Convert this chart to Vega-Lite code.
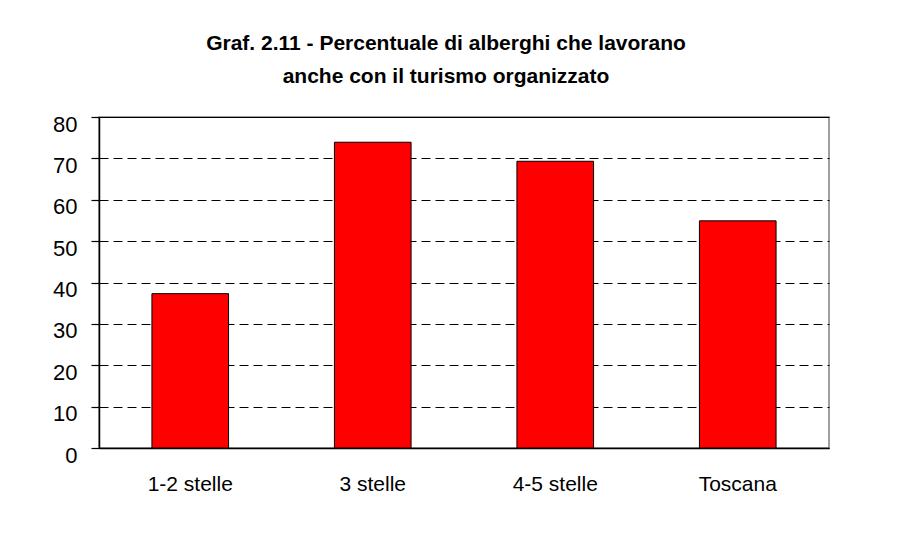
{
  "$schema": "https://vega.github.io/schema/vega-lite/v6.json",
  "width": 730,
  "height": 331,
  "autosize": "none",
  "padding": {"left": 99, "top": 117, "right": 85, "bottom": 107},
  "background": "white",
  "title": {
    "text": ["Graf. 2.11 - Percentuale di alberghi che  lavorano", "anche con il turismo organizzato"],
    "font": "Liberation Sans",
    "fontSize": 21,
    "fontWeight": "bold",
    "lineHeight": 33,
    "anchor": "middle",
    "offset": 26,
    "dx": -18,
    "color": "black"
  },
  "config": {
    "view": {"stroke": "#808080", "strokeWidth": 1.5},
    "axis": {"labelFont": "Liberation Sans", "labelColor": "black", "domainColor": "black", "tickColor": "black"}
  },
  "data": {
    "values": [
      {"categoria": "1-2 stelle", "percentuale": 37.3},
      {"categoria": "3 stelle", "percentuale": 73.9},
      {"categoria": "4-5 stelle", "percentuale": 69.3},
      {"categoria": "Toscana", "percentuale": 54.9}
    ]
  },
  "mark": {"type": "bar", "fill": "#FF0000", "stroke": "black", "strokeWidth": 1},
  "encoding": {
    "x": {
      "field": "categoria",
      "type": "nominal",
      "sort": null,
      "scale": {"paddingInner": 0.58, "paddingOuter": 0.29},
      "axis": {
        "title": null,
        "labelAngle": 0,
        "ticks": false,
        "labelFontSize": 21,
        "labelPadding": 25,
        "domainWidth": 1.5
      }
    },
    "y": {
      "field": "percentuale",
      "type": "quantitative",
      "scale": {"domain": [0, 80], "nice": false},
      "axis": {
        "title": null,
        "values": [0, 10, 20, 30, 40, 50, 60, 70, 80],
        "grid": true,
        "gridColor": "black",
        "gridWidth": 1.2,
        "gridDash": {"condition": {"test": "datum.value === 80 || datum.value === 0", "value": []}, "value": [9, 5]},
        "tickSize": 8,
        "tickWidth": 1.2,
        "domainWidth": 1.5,
        "labelFontSize": 22,
        "labelPadding": 14,
        "labelOffset": 7
      }
    }
  }
}
